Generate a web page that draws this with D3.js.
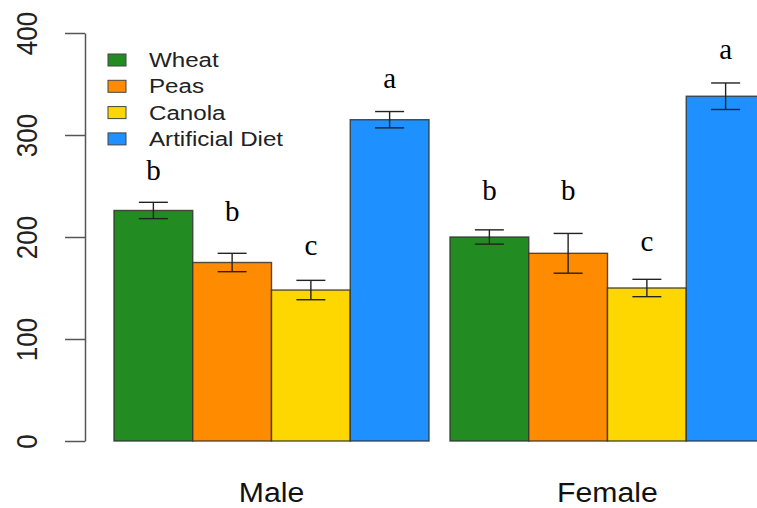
<!DOCTYPE html>
<html>
<head>
<meta charset="utf-8">
<script src="https://cdn.jsdelivr.net/npm/d3@7"></script>
<style>
  body { margin: 0; background: #fff; }
  text { font-family: "Liberation Sans", Arial, sans-serif; }
</style>
</head>
<body>
<script>
const groups = ["Male", "Female"];
const diets = ["Wheat", "Peas", "Canola", "Artificial Diet"];
const colors = ["#228B22", "#FF8C00", "#FFD700", "#1E90FF"];
// mean and standard error per group, in diet order
const maleMean = [226, 175, 148, 315];
const maleErr = [8, 9, 9.5, 8];
const femaleMean = [200, 184, 150, 338];
const femaleErr = [7, 19.5, 8.5, 13];
// significance letters and the height they sit at (data units)
const maleLetters = ["b", "b", "c", "a"];
const maleLetterY = [256, 216, 182, 346];
const femaleLetters = ["b", "b", "c", "a"];
const femaleLetterY = [236, 236, 186, 375];
const yTicks = [0, 100, 200, 300, 400];

const svgWidth = 757, svgHeight = 508;

const rows = [];
groups.forEach((g, gi) => {
  const mean = gi === 0 ? maleMean : femaleMean;
  const err = gi === 0 ? maleErr : femaleErr;
  const lets = gi === 0 ? maleLetters : femaleLetters;
  const ly = gi === 0 ? maleLetterY : femaleLetterY;
  diets.forEach((d, di) => {
    rows.push({ group: g, diet: d, value: mean[di], err: err[di], letter: lets[di], ly: ly[di], color: colors[di] });
  });
});

const svg = d3.select("body")
  .append("svg")
  .attr("width", svgWidth)
  .attr("height", svgHeight);

const y = d3.scaleLinear()
  .domain([0, 400])
  .range([441, 33]);

const x0 = d3.scaleBand()
  .domain(groups)
  .range([114, 765])
  .paddingInner(0.0625)
  .paddingOuter(0);

const x1 = d3.scaleBand()
  .domain(diets)
  .range([0, x0.bandwidth()]);

// bars
svg.selectAll(".bar")
  .data(rows)
  .enter()
  .append("rect")
  .attr("class", "bar")
  .attr("x", d => x0(d.group) + x1(d.diet))
  .attr("y", d => y(d.value))
  .attr("width", x1.bandwidth())
  .attr("height", d => y(0) - y(d.value))
  .attr("fill", d => d.color)
  .attr("stroke", "#333")
  .attr("stroke-opacity", 0.85)
  .attr("stroke-width", 1.4);

// error bars
const capW = 14.5;
const eb = svg.selectAll(".err")
  .data(rows)
  .enter()
  .append("g")
  .attr("class", "err")
  .attr("stroke", "#222")
  .attr("stroke-width", 1.4)
  .attr("transform", d => `translate(${x0(d.group) + x1(d.diet) + x1.bandwidth() / 2},0)`);
eb.append("line")
  .attr("y1", d => y(d.value - d.err))
  .attr("y2", d => y(d.value + d.err));
eb.append("line")
  .attr("x1", -capW).attr("x2", capW)
  .attr("y1", d => y(d.value + d.err))
  .attr("y2", d => y(d.value + d.err));
eb.append("line")
  .attr("x1", -capW).attr("x2", capW)
  .attr("y1", d => y(d.value - d.err))
  .attr("y2", d => y(d.value - d.err));

// letters
svg.selectAll(".letter")
  .data(rows)
  .enter()
  .append("text")
  .attr("class", "letter")
  .attr("x", d => x0(d.group) + x1(d.diet) + x1.bandwidth() / 2)
  .attr("y", d => y(d.ly))
  .attr("text-anchor", "middle")
  .style("font-family", "'Liberation Serif', 'Times New Roman', serif")
  .style("font-size", "29px")
  .attr("fill", "#000")
  .text(d => d.letter);

// y axis
const yAxis = svg.append("g")
  .attr("transform", "translate(85,0)")
  .call(d3.axisLeft(y).tickValues(yTicks).tickSize(20).tickSizeOuter(0).tickPadding(0));
yAxis.select(".domain").attr("stroke", "#555").attr("stroke-width", 1.5);
yAxis.selectAll(".tick line").attr("stroke", "#555").attr("stroke-width", 1.5);
yAxis.selectAll(".tick text")
  .attr("x", null).attr("dy", null)
  .attr("text-anchor", "middle")
  .attr("transform", "translate(-48,0) scale(1.15,1) rotate(-90)")
  .style("font-size", "26px")
  .attr("fill", "#222");

// group labels
svg.selectAll(".glabel")
  .data(groups)
  .enter()
  .append("text")
  .attr("class", "glabel")
  .attr("transform", d => `translate(${x0(d) + x0.bandwidth() / 2},502) scale(1.12,1)`)
  .attr("text-anchor", "middle")
  .style("font-size", "27px")
  .attr("fill", "#111")
  .text(d => d);

// legend
const legend = svg.append("g").attr("transform", "translate(108,60)");
const li = legend.selectAll(".li")
  .data(diets)
  .enter()
  .append("g")
  .attr("transform", (d, i) => `translate(0,${i * 26.3})`);
li.append("rect")
  .attr("x", 0).attr("y", -6)
  .attr("width", 18).attr("height", 12)
  .attr("fill", (d, i) => colors[i])
  .attr("stroke", "#444")
  .attr("stroke-width", 1);
li.append("text")
  .attr("transform", "translate(41,7) scale(1.15,1)")
  .style("font-size", "21px")
  .attr("fill", "#222")
  .text(d => d);
</script>
</body>
</html>
